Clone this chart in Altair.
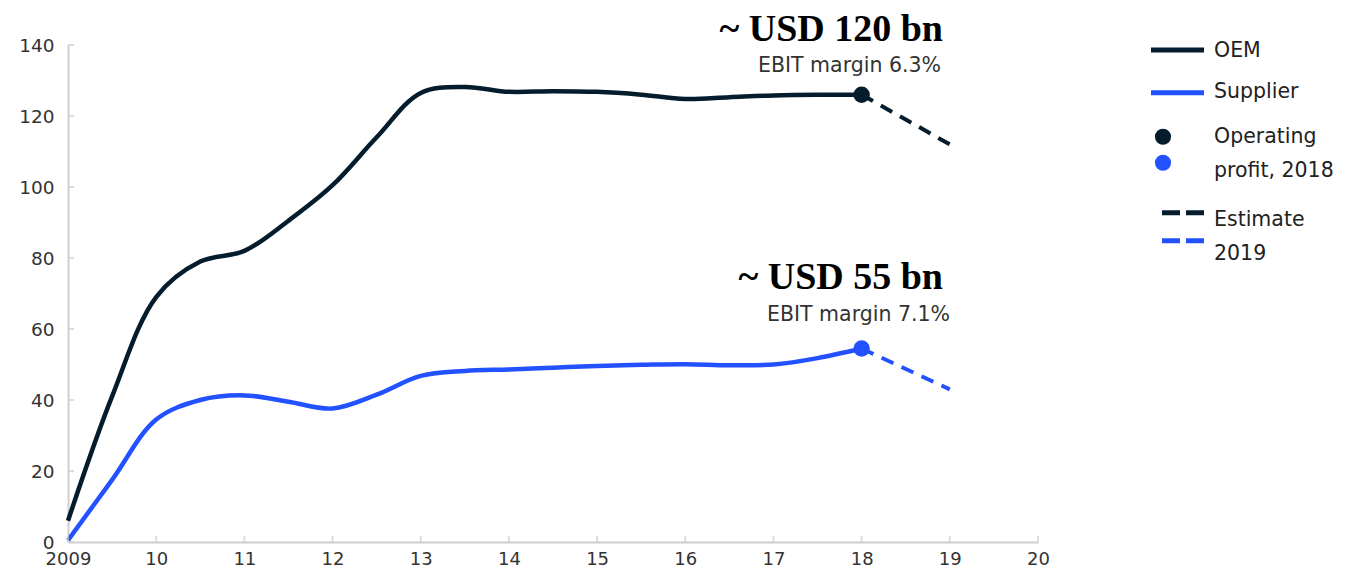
import altair as alt
import pandas as pd

# ---------------- data ----------------
years = [2009, 2009.5, 2010, 2010.5, 2011, 2011.5, 2012, 2012.5, 2013, 2013.5,
         2014, 2014.5, 2015, 2015.5, 2016, 2016.5, 2017, 2017.5, 2018]
oem_profit = [6, 41, 69, 79, 82, 90.5, 100.5, 114, 126.5, 128.2,
              126.8, 127, 126.8, 126, 124.8, 125.3, 125.8, 126, 126]
supplier_profit = [0.5, 17.5, 34.5, 40, 41.3, 39.5, 37.6, 41.5, 46.8, 48.2,
                   48.6, 49.1, 49.6, 49.9, 50.1, 49.8, 50, 51.8, 54.5]

estimate_years = [2018, 2019]
oem_estimate = [126, 112]
supplier_estimate = [54.5, 43]

series_names = ["OEM", "Supplier"]
series_colors = ["#051C2C", "#2251FF"]

x_ticks = [2009, 2010, 2011, 2012, 2013, 2014, 2015, 2016, 2017, 2018, 2019, 2020]
x_tick_labels = ["2009", "10", "11", "12", "13", "14", "15", "16", "17", "18", "19", "20"]
y_ticks = [0, 20, 40, 60, 80, 100, 120, 140]

oem_title = "~ USD 120 bn"
oem_sub = "EBIT margin 6.3%"
sup_title = "~ USD 55 bn"
sup_sub = "EBIT margin 7.1%"

legend_line_labels = ["OEM", "Supplier"]
legend_dot_label = ["Operating", "profit, 2018"]
legend_dash_label = ["Estimate", "2019"]

# ---------------- tables ----------------
n = len(years)
solid = pd.DataFrame({
    "year": years + years,
    "value": oem_profit + supplier_profit,
    "series": [series_names[0]] * n + [series_names[1]] * n,
})
est = pd.DataFrame({
    "year": estimate_years + estimate_years,
    "value": oem_estimate + supplier_estimate,
    "series": [series_names[0]] * 2 + [series_names[1]] * 2,
})
pts = pd.DataFrame({
    "year": [years[-1], years[-1]],
    "value": [oem_profit[-1], supplier_profit[-1]],
    "series": series_names,
})

FONT = "DejaVu Sans"
AXIS_GREY = "#cfcfcf"
LABEL_COL = "#333333"

label_expr = "[" + ",".join("'" + s + "'" for s in x_tick_labels) + "][indexof([" + \
    ",".join(str(v) for v in x_ticks) + "], datum.value)]"

x_enc = alt.X("year:Q",
              scale=alt.Scale(domain=[2009, 2020], nice=False, zero=False),
              axis=alt.Axis(values=x_ticks, labelExpr=label_expr, grid=False, tickSize=0,
                            labelPadding=8, domainColor=AXIS_GREY, domainWidth=2, title=None,
                            labelFontSize=18, labelColor=LABEL_COL, labelFont=FONT,
                            labelFlush=False))
y_enc = alt.Y("value:Q",
              scale=alt.Scale(domain=[0, 140], nice=False),
              axis=alt.Axis(values=y_ticks, grid=False, tickSize=0, labelPadding=14,
                            domainColor=AXIS_GREY, domainWidth=2, title=None,
                            labelFontSize=18.5, labelColor=LABEL_COL, labelFont=FONT))
color_enc = alt.Color("series:N", scale=alt.Scale(domain=series_names, range=series_colors),
                      legend=None)

lines = alt.Chart(solid).mark_line(strokeWidth=4.5, interpolate="catmull-rom").encode(
    x=x_enc, y=y_enc, color=color_enc)
dashed = alt.Chart(est).mark_line(strokeWidth=4, strokeDash=[13, 9]).encode(
    x=x_enc, y=y_enc, color=color_enc)
dots = alt.Chart(pts).mark_circle(size=270, opacity=1).encode(
    x=x_enc, y=y_enc, color=color_enc)

xticks = alt.Chart(pd.DataFrame({"year": x_ticks})).mark_tick(
    color=AXIS_GREY, thickness=2, size=6).encode(x=x_enc, y=alt.value(494))
yticks = alt.Chart(pd.DataFrame({"value": y_ticks})).mark_tick(
    color=AXIS_GREY, thickness=2, size=6).encode(y=y_enc, x=alt.value(3))


def txt(s, x, y, size, color, font=FONT, weight="normal", align="right"):
    return alt.Chart(pd.DataFrame({"t": [s]})).mark_text(
        align=align, baseline="alphabetic", fontSize=size, font=font,
        fontWeight=weight, color=color).encode(
        text="t:N", x=alt.value(x), y=alt.value(y))


annots = [
    txt(oem_title, 875, -4, 38, "#000000", font="Liberation Serif", weight="bold"),
    txt(oem_sub, 873, 26.5, 20.5, LABEL_COL),
    txt(sup_title, 875, 244, 38, "#000000", font="Liberation Serif", weight="bold"),
    txt(sup_sub, 882, 276, 20.5, LABEL_COL),
]


def lrule(y, color, dash=None, x1=1083, x2=1136):
    kw = dict(color=color, strokeWidth=5)
    if dash:
        kw["strokeDash"] = dash
    return alt.Chart(pd.DataFrame({"k": [0]})).mark_rule(**kw).encode(
        x=alt.value(x1), x2=alt.value(x2), y=alt.value(y))


def ldot(y, color):
    return alt.Chart(pd.DataFrame({"k": [0]})).mark_circle(
        size=260, opacity=1, color=color).encode(x=alt.value(1095), y=alt.value(y))


LEG_COL = "#222222"
legend = [
    lrule(5, series_colors[0]),
    lrule(47.7, series_colors[1]),
    ldot(91.7, series_colors[0]),
    ldot(117.7, series_colors[1]),
    lrule(167.7, series_colors[0], dash=[18, 6], x1=1094),
    lrule(195.7, series_colors[1], dash=[18, 6], x1=1094),
    txt(legend_line_labels[0], 1146, 12.3, 20.5, LEG_COL, align="left"),
    txt(legend_line_labels[1], 1146, 53.3, 20.5, LEG_COL, align="left"),
    txt(legend_dot_label[0], 1146, 98.3, 20.5, LEG_COL, align="left"),
    txt(legend_dot_label[1], 1146, 131.7, 20.5, LEG_COL, align="left"),
    txt(legend_dash_label[0], 1146, 181, 20.5, LEG_COL, align="left"),
    txt(legend_dash_label[1], 1146, 215, 20.5, LEG_COL, align="left"),
]

chart = alt.layer(lines, dashed, dots, xticks, yticks, *annots, *legend).properties(
    width=970, height=497, autosize="none",
    padding={"left": 60, "top": 37, "right": 323, "bottom": 32},
).configure_view(stroke=None)

chart.save("out.html", embed_options={"renderer": "svg", "actions": False})
